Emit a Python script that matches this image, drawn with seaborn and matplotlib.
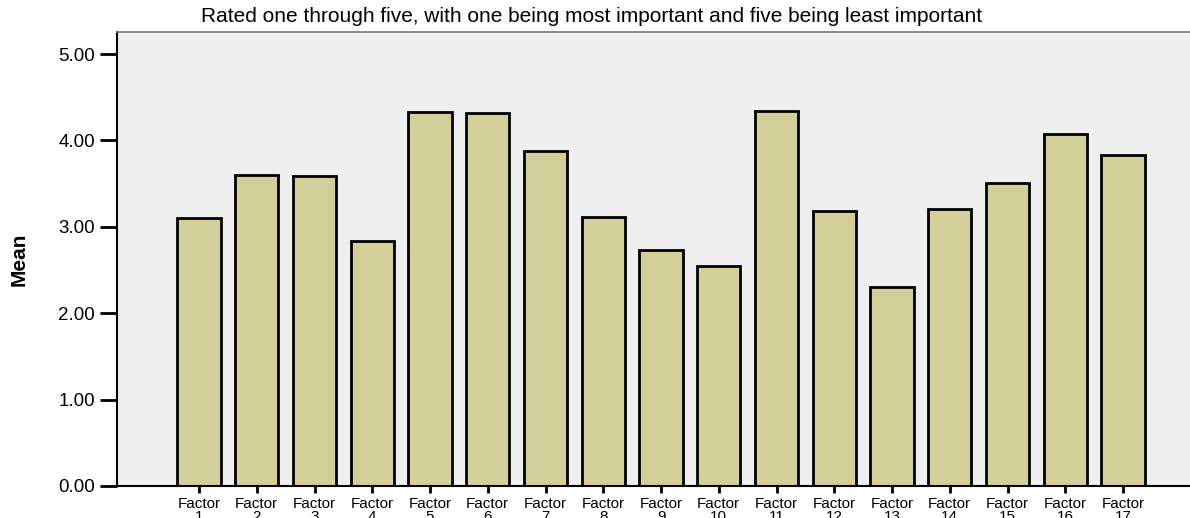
import matplotlib
matplotlib.use("Agg")
import matplotlib.pyplot as plt
import pandas as pd
import seaborn as sns

factors = [f"Factor\n{i}" for i in range(1, 18)]
means = [3.10, 3.60, 3.59, 2.84, 4.33, 4.32, 3.88, 3.11, 2.73, 2.55,
         4.34, 3.18, 2.30, 3.21, 3.51, 4.07, 3.83]
y_ticks = [0, 1, 2, 3, 4, 5]

df = pd.DataFrame({"factor": factors, "mean": means})

sns.set_theme(style="white")
plt.rcParams["font.family"] = ["Liberation Sans", "DejaVu Sans"]
plt.rcParams["text.color"] = "black"
plt.rcParams["xtick.color"] = "black"
plt.rcParams["ytick.color"] = "black"
plt.rcParams["axes.labelcolor"] = "black"

fig = plt.figure(figsize=(11.9, 5.18), dpi=100)
ax = fig.add_axes([117 / 1190, 32 / 518, 1 - 117 / 1190, 454 / 518])
ax.set_facecolor("#efefef")

sns.barplot(data=df, x="factor", y="mean", color="#d3cf99", width=0.75,
            edgecolor="black", linewidth=2, saturation=1, ax=ax)

ax.set_xlim(-1.42, 17.16)
ax.set_ylim(0, 5.255)
ax.set_yticks(y_ticks)
ax.set_yticklabels([f"{v:.2f}" for v in y_ticks], fontsize=13.5)
ax.tick_params(axis="y", left=True, direction="out", length=12, width=2,
               color="black", labelcolor="black", pad=4)
ax.tick_params(axis="x", bottom=True, direction="out", length=5, width=2,
               color="black", labelcolor="black", labelsize=11, pad=3)
for lbl in ax.get_xticklabels():
    lbl.set_linespacing(0.9)

ax.set_xlabel("")
ax.set_ylabel("Mean", fontsize=15, fontweight="bold", color="black")
ax.yaxis.set_label_coords(-0.082, 0.5)

for side in ["left", "bottom"]:
    ax.spines[side].set_color("black")
    ax.spines[side].set_linewidth(1.5)
ax.spines["top"].set_color("#777777")
ax.spines["top"].set_linewidth(1.2)
ax.spines["right"].set_visible(False)

fig.text(592 / 1190, 1 - 17 / 518,
         "Rated one through five, with one being most important and five being least important",
         ha="center", va="center", fontsize=15, color="black")

fig.savefig("out.png", dpi=100)
